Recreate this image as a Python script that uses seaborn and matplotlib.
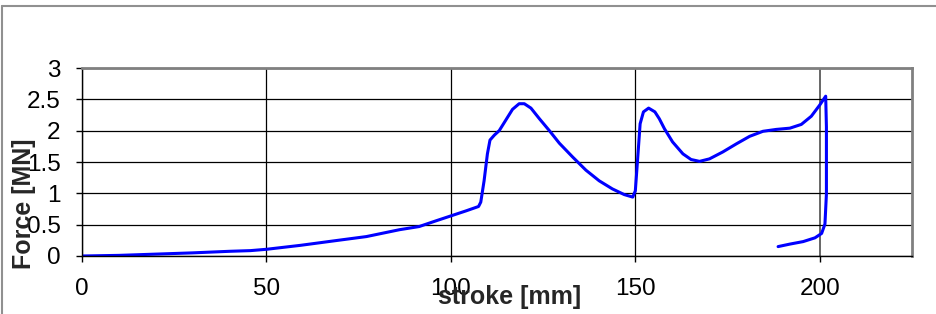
import seaborn as sns
import matplotlib.pyplot as plt
import pandas as pd
from matplotlib.lines import Line2D

# stroke [mm] and force [MN] (in drawing order)
stroke = [0, 10, 20, 30, 40, 45.7, 50, 59.2, 68.1, 77.1, 86.1, 91.4, 95.9, 100,
          104.1, 107.5, 108.1, 109.0, 109.9, 110.6, 111.8, 113.1, 114.9, 116.7,
          118.5, 119.9, 121.7, 124.0, 126.7, 129.4, 133.0, 136.6, 140.2, 143.8,
          147.0, 149.3, 150.0, 150.6, 151.3, 152.2, 153.6, 155.3, 156.5, 157.9,
          160.1, 162.9, 165.1, 167.4, 170.1, 173.7, 177.4, 181.0, 184.6, 188.2,
          191.9, 195.0, 197.7, 200.0, 201.6,
          201.8, 201.8, 201.4, 200.5, 198.7, 195.5, 191.9, 188.7]
force = [0.0, 0.01, 0.03, 0.05, 0.075, 0.086, 0.107, 0.17, 0.24, 0.31, 0.42, 0.47, 0.56, 0.64,
         0.72, 0.79, 0.86, 1.20, 1.63, 1.85, 1.93, 2.0, 2.17, 2.34,
         2.43, 2.43, 2.36, 2.19, 2.0, 1.80, 1.58, 1.37, 1.20, 1.07,
         0.98, 0.94, 1.04, 1.53, 2.11, 2.30, 2.36, 2.30, 2.19, 2.03,
         1.82, 1.63, 1.54, 1.51, 1.55, 1.66, 1.79, 1.91, 1.99, 2.02,
         2.04, 2.10, 2.23, 2.41, 2.55,
         2.06, 0.99, 0.51, 0.36, 0.29, 0.23, 0.19, 0.15]

x_ticks = [0, 50, 100, 150, 200]
y_ticks = [0, 0.5, 1, 1.5, 2, 2.5, 3]

df = pd.DataFrame({"stroke": stroke, "force": force})

sns.set_style("white")
plt.rcParams["font.family"] = ["Liberation Sans", "DejaVu Sans"]

fig = plt.figure(figsize=(9.37, 3.14), dpi=100)
ax = fig.add_axes([82 / 937, 58 / 314, 830 / 937, 188 / 314])

sns.lineplot(data=df, x="stroke", y="force", sort=False, estimator=None,
             color="#0000ff", linewidth=2.2, ax=ax)

ax.set_xlim(0, 225)
ax.set_ylim(0, 3)
ax.set_xticks(x_ticks)
ax.set_yticks(y_ticks)
ax.set_yticklabels([f"{v:g}" for v in y_ticks])
ax.set_xlabel("")
ax.set_ylabel("")

ax.grid(True, color="black", linewidth=0.9)
ax.get_xgridlines()[-1].set_color("#5a5a5a")
ax.get_xgridlines()[-1].set_linewidth(1.3)
ax.tick_params(axis="both", labelsize=17.5, direction="out", length=4.5,
               width=1, colors="black", left=True, bottom=True)
ax.tick_params(axis="x", pad=11)
ax.tick_params(axis="y", pad=11)

for side in ["top", "right"]:
    ax.spines[side].set_color("#808080")
    ax.spines[side].set_linewidth(2)
for side in ["left", "bottom"]:
    ax.spines[side].set_color("black")
    ax.spines[side].set_linewidth(1)

fig.text(510 / 937, (314 - 297) / 314, "stroke [mm]", fontsize=18,
         fontweight="bold", ha="center", va="center")
fig.text(24 / 937, (314 - 204) / 314, "Force [MN]", fontsize=18,
         fontweight="bold", ha="center", va="center", rotation=90)

# outer chart border (top and left edges visible)
fig.add_artist(Line2D([2 / 937, 1], [1 - 6 / 314, 1 - 6 / 314],
                      transform=fig.transFigure, color="#909090", lw=1.5))
fig.add_artist(Line2D([2 / 937, 2 / 937], [0, 1 - 6 / 314],
                      transform=fig.transFigure, color="#909090", lw=1.5))

fig.savefig("out.png", dpi=100)
